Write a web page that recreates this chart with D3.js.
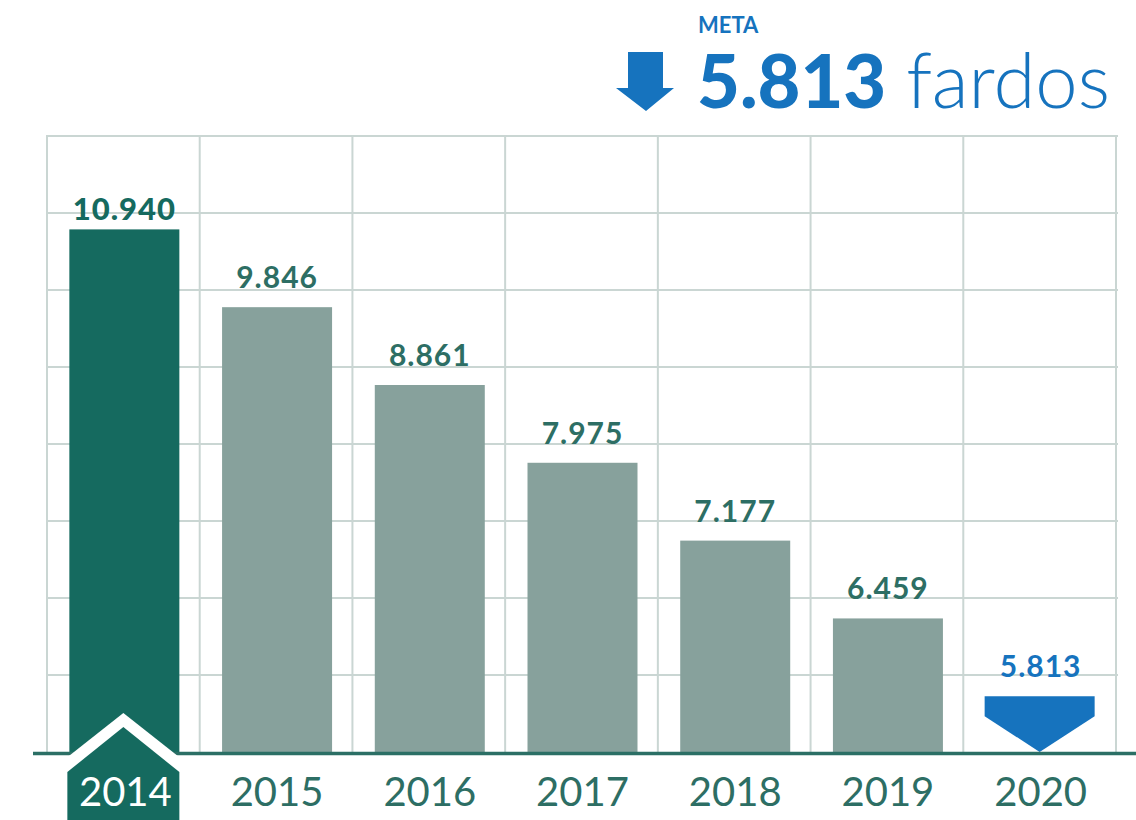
<!DOCTYPE html>
<html>
<head>
<meta charset="utf-8">
<script src="https://cdn.jsdelivr.net/npm/d3@7"></script>
<style>
  html, body { margin: 0; padding: 0; background: #ffffff; }
  svg { display: block; font-family: Lato, "Open Sans", sans-serif; }
</style>
</head>
<body>
<svg id="chart" width="1136" height="820"></svg>
<script>
// ---- data ----
const years = ["2014", "2015", "2016", "2017", "2018", "2019", "2020"];
const values = [10940, 9846, 8861, 7975, 7177, 6459, 5813];
const goalLabel = "META";
const goalValue = 5813;
const goalUnit = "fardos";
const gridRows = [1, 2, 3, 4, 5, 6, 7, 8];

// ---- styles ----
const C = {
  dark: "#156a5f",
  bar: "#87a19c",
  label: "#2d6e64",
  blue: "#1673be",
  grid: "#cad6d3",
  axis: "#2b6f65"
};

const fmt = d3.formatLocale({ decimal: ",", thousands: ".", grouping: [3], currency: ["", ""] }).format(",d");

const svg = d3.select("#chart");
const baseY = 752;

const x = d3.scaleBand().domain(years).range([47, 1116]).paddingInner(0).paddingOuter(0);
const y = d3.scaleLog().domain([5390, 10940]).range([baseY, 229.4]);
const gy = d3.scaleLinear().domain([0, 8]).range([baseY, 136]);

// grid
const grid = svg.append("g");
grid.selectAll("line.h").data(gridRows).join("line")
  .attr("x1", x.range()[0]).attr("x2", x.range()[1] + 2)
  .attr("y1", d => gy(d)).attr("y2", d => gy(d))
  .attr("stroke", C.grid).attr("stroke-width", 2);
const edges = years.map(d => x(d)).concat([x.range()[1]]);
grid.selectAll("line.v").data(edges).join("line")
  .attr("x1", d => d).attr("x2", d => d)
  .attr("y1", gy(8) - 1).attr("y2", baseY)
  .attr("stroke", C.grid).attr("stroke-width", 2);

const bw = 110;
const cx = d => x(d) + x.bandwidth() / 2 + 1;

// bars (all except goal year)
const data = years.map((yr, i) => ({ yr, v: values[i], i }));
const histo = data.filter(d => d.i < years.length - 1);
svg.append("g").selectAll("rect").data(histo).join("rect")
  .attr("x", d => cx(d.yr) - bw / 2)
  .attr("width", bw)
  .attr("y", d => y(d.v))
  .attr("height", d => baseY - y(d.v))
  .attr("fill", d => d.i === 0 ? C.dark : C.bar);

// value labels
svg.append("g").selectAll("text").data(data).join("text")
  .attr("x", d => cx(d.yr))
  .attr("y", d => d.i === 0 ? y(d.v) - 9 : y(d.v) - 19)
  .attr("text-anchor", "middle")
  .attr("font-size", d => d.i === 0 ? 31 : 30)
  .attr("font-weight", d => d.i === 0 ? 900 : 700)
  .attr("letter-spacing", 1)
  .attr("fill", d => d.i === years.length - 1 ? C.blue : (d.i === 0 ? C.dark : C.label))
  .text(d => fmt(d.v));

// goal marker (2020)
const g = data[data.length - 1];
const gt = y(g.v);
const gx = cx(g.yr) - 1;
svg.append("path")
  .attr("d", `M${gx - 55},${gt} L${gx + 55},${gt} L${gx + 55},${gt + 20} L${gx},${baseY} L${gx - 55},${gt + 20} Z`)
  .attr("fill", C.blue);

// baseline
svg.append("line")
  .attr("x1", 33).attr("x2", 1136)
  .attr("y1", baseY + 1.5).attr("y2", baseY + 1.5)
  .attr("stroke", C.axis).attr("stroke-width", 3.5);

// house label for first year
const hx = cx(years[0]) - 1;
svg.append("path")
  .attr("d", `M${hx - 57},${baseY + 6} L${hx},${baseY - 39} L${hx + 57},${baseY + 6} L${hx + 57},820 L${hx - 57},820 Z`)
  .attr("fill", "#ffffff");
svg.append("path")
  .attr("d", `M${hx - 56},${baseY + 20} L${hx},${baseY - 25} L${hx + 56},${baseY + 20} L${hx + 56},820 L${hx - 56},820 Z`)
  .attr("fill", C.dark);

// year labels
svg.append("g").selectAll("text").data(data).join("text")
  .attr("x", d => cx(d.yr) + (d.i === 0 ? 1 : 0))
  .attr("y", 806)
  .attr("text-anchor", "middle")
  .attr("font-size", 40)
  .attr("font-weight", 400)
  .attr("fill", d => d.i === 0 ? "#ffffff" : C.label)
  .text(d => d.yr);

// header
const hdr = svg.append("g");
hdr.append("path")
  .attr("d", "M628,52 L663,52 L663,88 L674,88 L646,111 L616,88 L628,88 Z")
  .attr("fill", C.blue);
hdr.append("text")
  .attr("x", 698).attr("y", 33)
  .attr("font-size", 22).attr("font-weight", 700)
  .attr("fill", C.blue)
  .text(goalLabel);
const big = hdr.append("text")
  .attr("x", 697).attr("y", 108)
  .attr("fill", C.blue);
big.append("tspan")
  .attr("font-size", 74).attr("font-weight", 900)
  .text(fmt(goalValue));
big.append("tspan")
  .attr("dx", 20)
  .attr("font-size", 76).attr("font-weight", 300)
  .text(goalUnit);
</script>
</body>
</html>
